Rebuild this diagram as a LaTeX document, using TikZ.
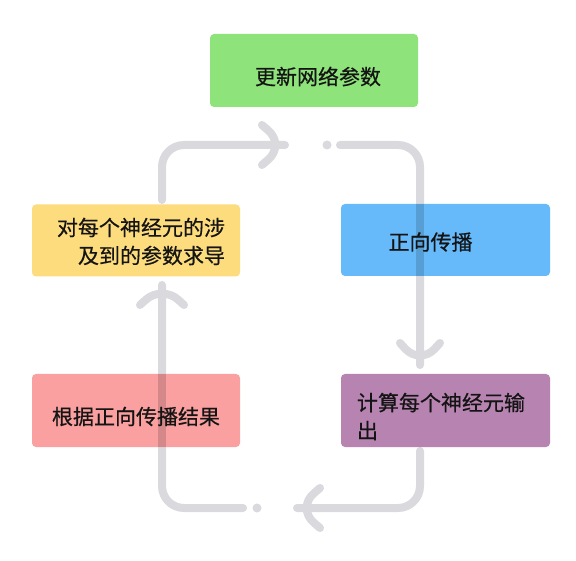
\documentclass[tikz,border=0pt]{standalone}
\usepackage{fontspec}
\setmainfont{Noto Sans CJK SC}[BoldFont={Noto Sans CJK SC}, BoldFeatures={FakeBold=0.5}]
\usetikzlibrary{positioning}
\definecolor{loopgray}{RGB}{217,217,222}
\definecolor{boxgreen}{RGB}{143,227,123}
\definecolor{boxblue}{RGB}{102,186,250}
\definecolor{boxyellow}{RGB}{253,220,125}
\definecolor{boxpink}{RGB}{250,160,160}
\definecolor{boxpurple}{RGB}{183,131,176}
\definecolor{blueshade}{RGB}{87,158,213}
\definecolor{pinkshade}{RGB}{213,136,138}
\definecolor{txtblack}{RGB}{20,20,20}
\tikzset{
  stagebox/.style={rectangle, rounded corners=4pt, minimum width=208pt,
    minimum height=73pt, inner sep=0pt},
  stagetext/.style={inner sep=0pt, text=txtblack,
    font=\bfseries\fontsize{21pt}{28pt}\selectfont},
  loopline/.style={draw=loopgray, line width=8pt, line cap=round,
    line join=round, rounded corners=22pt},
  shadeline/.style={line width=8pt},
}
\begin{document}
\begin{tikzpicture}[x=1pt, y=-1pt]
    \useasboundingbox[fill=white] (0,0) rectangle (576,561);
    % corner points of the grey loop
    \coordinate (tl) at (162,145);
    \coordinate (tr) at (420,145);
    \coordinate (br) at (420,508);
    \coordinate (bl) at (162,508);
    \coordinate (tipTop) at (285,145);
    \coordinate (tipRight) at (420,365);
    \coordinate (tipBottom) at (297,508);
    \coordinate (tipLeft) at (162,285);
    % grey loop
    \draw[loopline] (162,200) -- (tl) -- (tipTop);
    \draw[loopline] (340,145) -- (tr) -- (tipRight);
    \draw[loopline] (420,451) -- (br) -- (tipBottom);
    \draw[loopline] (243,508) -- (bl) -- (tipLeft);
    \draw[loopline] (tipTop) ++(-23,-20) -- (tipTop) -- ++(-23,20);
    \draw[loopline] (tipRight) ++(-20,-22) -- (tipRight) -- ++(20,-22);
    \draw[loopline] (tipBottom) ++(23,-20) -- (tipBottom) -- ++(23,20);
    \draw[loopline] (tipLeft) ++(-22,20) -- (tipLeft) -- ++(22,20);
    \fill[loopgray] (327,145) circle(4.5);
    \fill[loopgray] (257,508) circle(4.5);
    % the five stages
    \node[stagebox, fill=boxgreen] (update) at (314,70.5) {};
    \node[stagebox, fill=boxblue, minimum width=209pt, minimum height=72pt] (forward) at (445.5,240) {};
    \node[stagebox, fill=boxpurple, minimum width=209pt] (output) at (445.5,410.5) {};
    \node[stagebox, fill=boxpink] (result) at (136,410.5) {};
    \node[stagebox, fill=boxyellow, minimum height=72pt] (deriv) at (136,240.5) {};
    % loop showing through the blue and pink boxes
    \draw[shadeline, draw=blueshade] (forward.north -| tr) -- (forward.south -| tr);
    \draw[shadeline, draw=pinkshade] (result.north -| bl) -- (result.south -| bl);
    % stage texts
    \node[stagetext] (updateText) at ([xshift=4pt, yshift=-6pt]update.center) {更新网络参数};
    \node[stagetext] (forwardText) at ([xshift=-15pt, yshift=-2pt]forward.center) {正向传播};
    \node[stagetext, anchor=west, align=left] (outputText)
        at ([xshift=16pt, yshift=-6pt]output.west) {计算每个神经元输\\出};
    \node[stagetext] (resultText) at ([yshift=-6pt]result.center) {根据正向传播结果};
    \node[stagetext, anchor=east, align=right] (derivText)
        at ([xshift=-15pt, yshift=-1pt]deriv.east) {对每个神经元的涉\\及到的参数求导};
\end{tikzpicture}
\end{document}
